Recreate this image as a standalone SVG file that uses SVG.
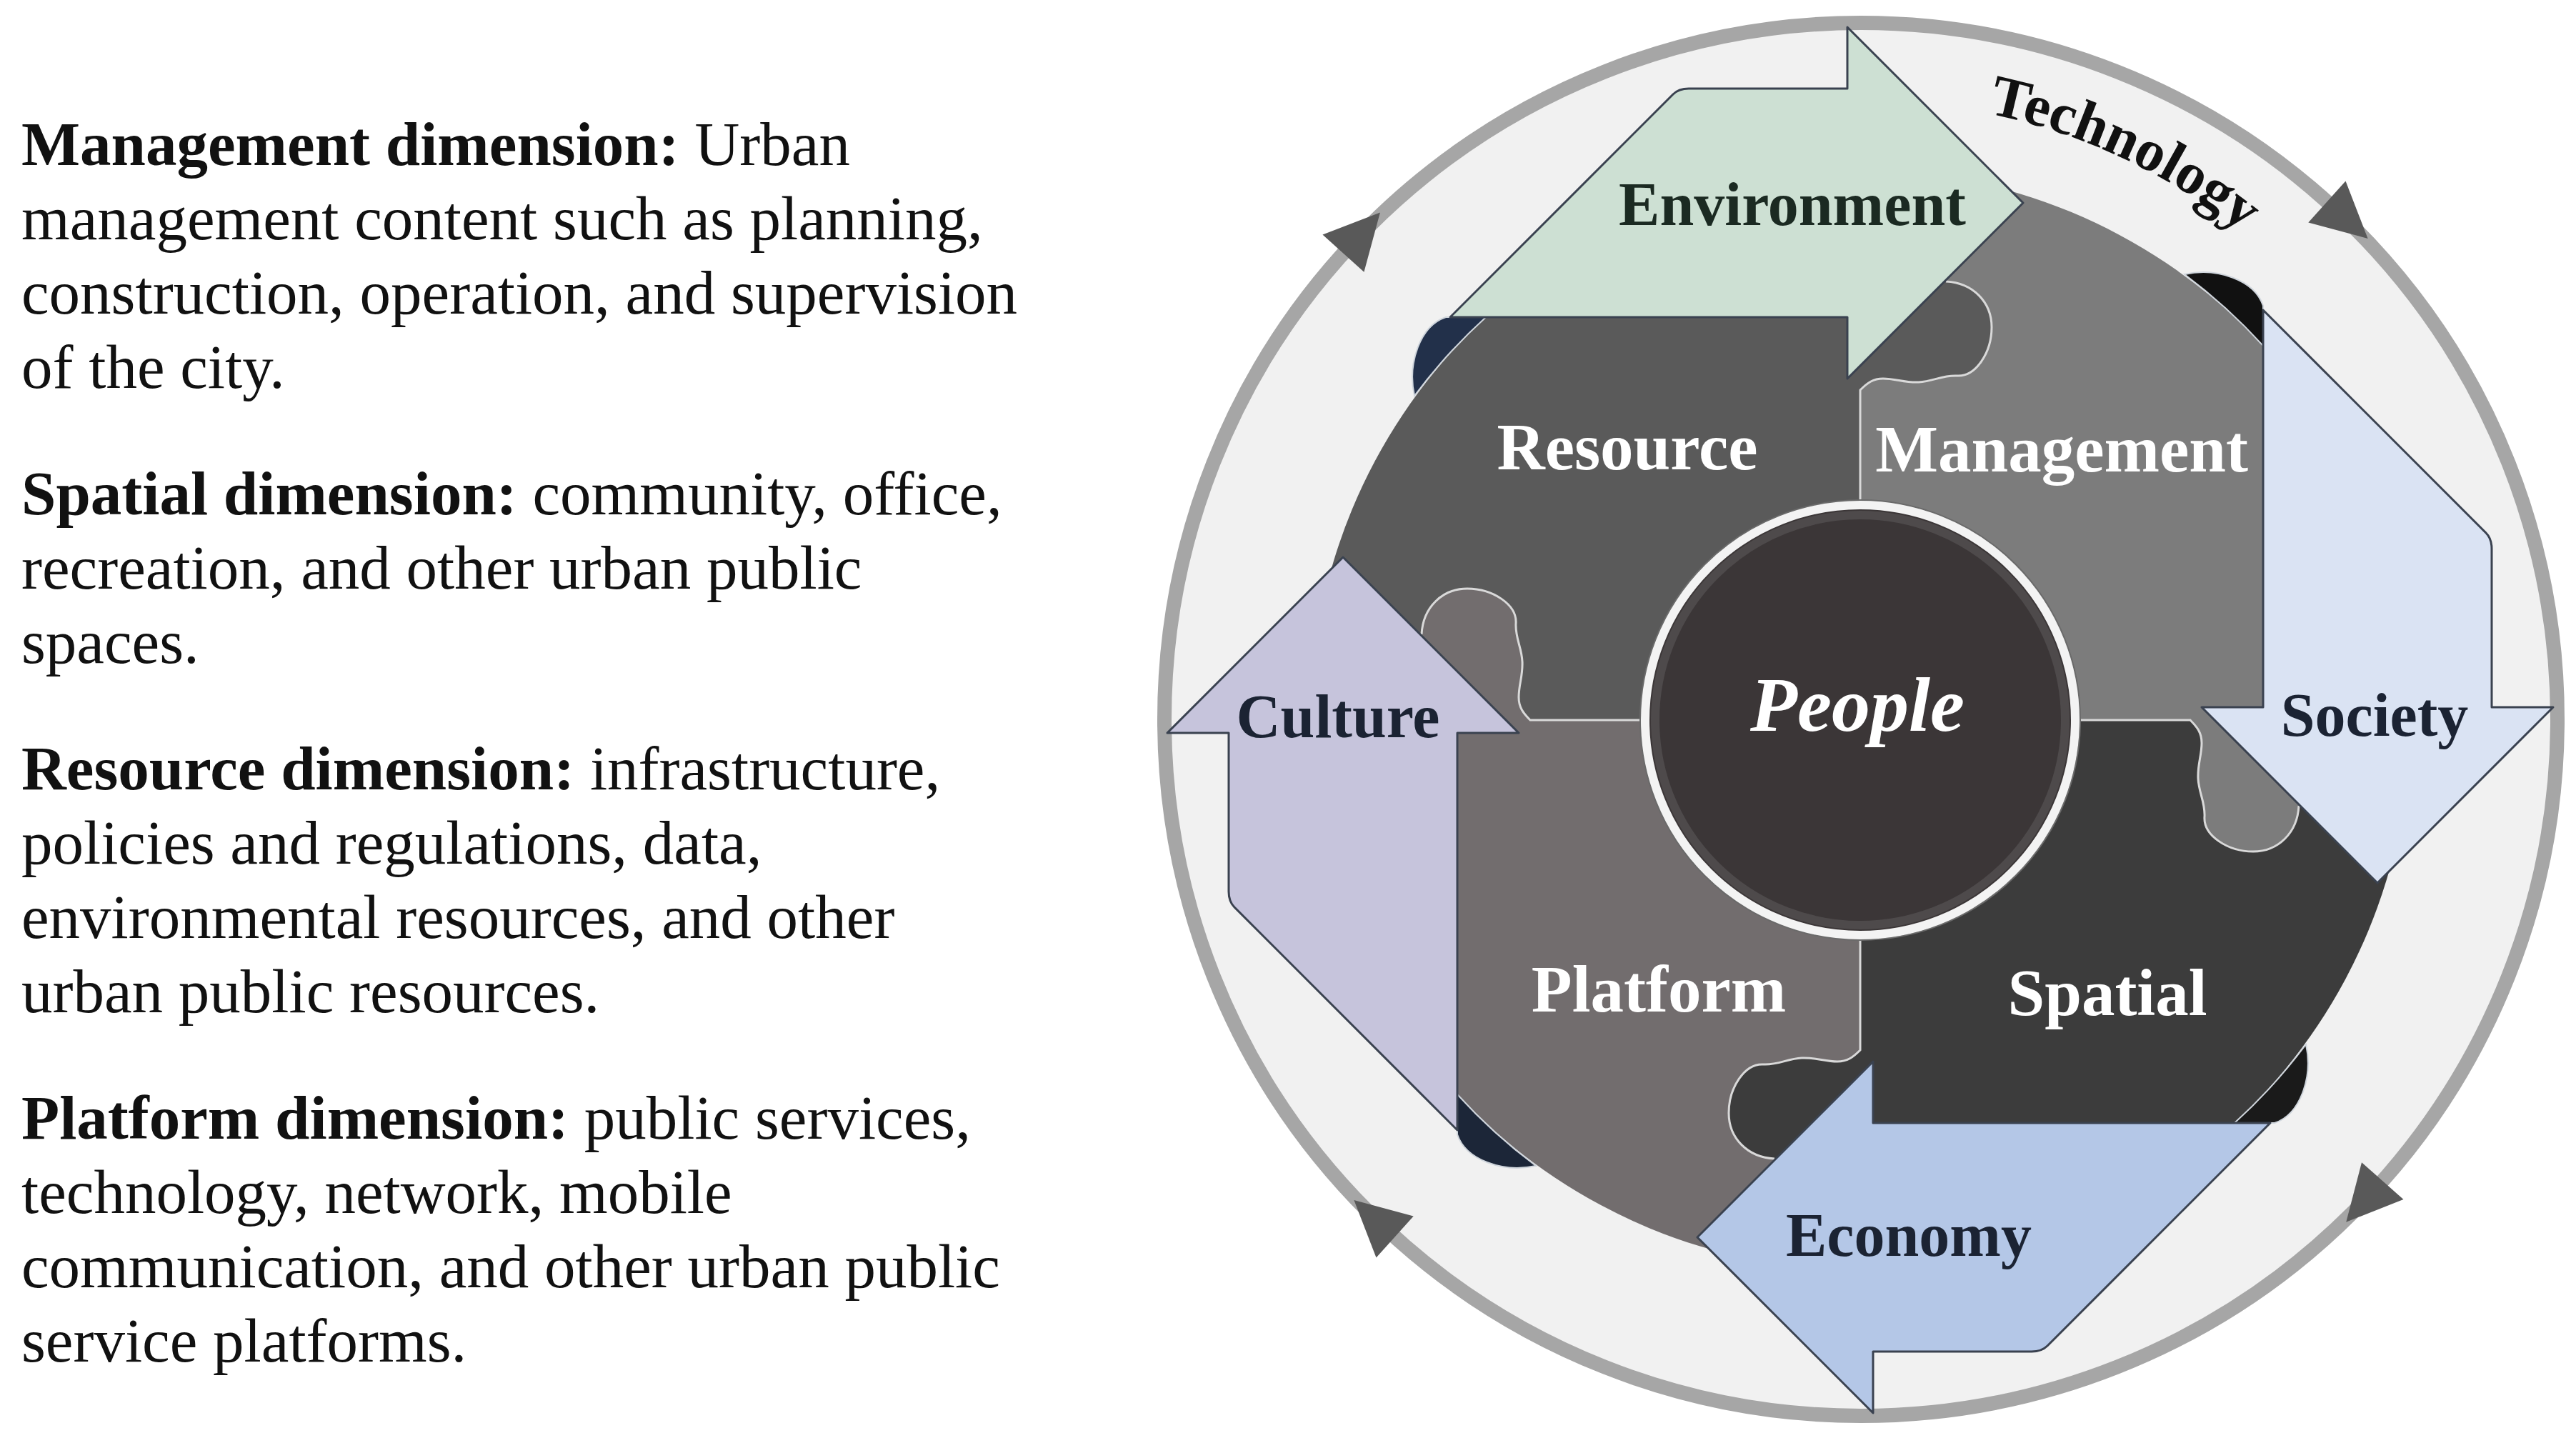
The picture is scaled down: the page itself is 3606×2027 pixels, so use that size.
<svg xmlns="http://www.w3.org/2000/svg" width="3606" height="2027" viewBox="0 0 3606 2027">
<style>
.body{font-family:"Liberation Serif","Times New Roman",serif;font-size:87px;fill:#111}
.b{font-weight:bold}
.pl{font-family:"Liberation Serif","Times New Roman",serif;font-weight:bold;font-size:93px;fill:#ffffff;text-anchor:middle}
.al{font-family:"Liberation Serif","Times New Roman",serif;font-weight:bold;font-size:86px;fill:#1b2333;text-anchor:middle}
.arrow{stroke:#3a4250;stroke-width:3;stroke-linejoin:round}
.curl{stroke:#cfd5dc;stroke-width:2}
.tabline{fill:none;stroke:#d9d9d9;stroke-width:3}
.ringarrow{fill:#595959}
</style>
<defs>
<path id="arrowShape" d="M-240,-884 L-18,-884 L-18,-970 L228,-724 L-18,-478 L-18,-564 L-574,-564 L-262,-876 Q-254,-884 -240,-884 Z"/>
<path id="curlShape" d="M-524,-564 L-580,-564 C-616,-552 -634,-500 -624,-454 A770,770 0 0 1 -524,-564 Z"/>
<path id="tabLine" d="M0,-307 L0,-462 C10,-472 18,-478 32,-478 C50,-478 62,-472 82,-473 C102,-474 115,-483 135,-482 C162,-480 184,-515 184,-550 C184,-585 158,-612 120,-614"/>
<polygon id="ringArrow" points="936,0 1014,0 975,77"/>
<path id="techArc" d="M2307.1,192.3 A868,868 0 0 1 3419.7,711.1"/>
</defs>

<g id="text-panel">
<text class="body" x="30" y="231"><tspan class="b">Management dimension:</tspan> Urban</text>
<text class="body" x="30" y="335">management content such as planning,</text>
<text class="body" x="30" y="439">construction, operation, and supervision</text>
<text class="body" x="30" y="543">of the city.</text>
<text class="body" x="30" y="720"><tspan class="b">Spatial dimension:</tspan> community, office,</text>
<text class="body" x="30" y="824">recreation, and other urban public</text>
<text class="body" x="30" y="928">spaces.</text>
<text class="body" x="30" y="1105"><tspan class="b">Resource dimension:</tspan> infrastructure,</text>
<text class="body" x="30" y="1209">policies and regulations, data,</text>
<text class="body" x="30" y="1313">environmental resources, and other</text>
<text class="body" x="30" y="1417">urban public resources.</text>
<text class="body" x="30" y="1594"><tspan class="b">Platform dimension:</tspan> public services,</text>
<text class="body" x="30" y="1698">technology, network, mobile</text>
<text class="body" x="30" y="1802">communication, and other urban public</text>
<text class="body" x="30" y="1906">service platforms.</text>
</g>

<g id="technology-ring">
<circle cx="2605" cy="1007" r="966" fill="#f1f1f1"/>
<circle cx="2605" cy="1007" r="975" fill="none" stroke="#a6a6a6" stroke-width="20"/>
<text font-family="Liberation Serif, Times New Roman, serif" font-weight="bold" font-size="82" fill="#111"><textPath href="#techArc" startOffset="50%" text-anchor="middle">Technology</textPath></text>
</g>

<g id="connectors">
<use href="#ringArrow" class="ringarrow" transform="translate(2605,1007) rotate(-138)"/>
<use href="#ringArrow" class="ringarrow" transform="translate(2605,1007) rotate(-48)"/>
<use href="#ringArrow" class="ringarrow" transform="translate(2605,1007) rotate(41.5)"/>
<use href="#ringArrow" class="ringarrow" transform="translate(2605,1007) rotate(132)"/>
</g>

<g transform="translate(2604,1008)">
<g id="piece-resource">
<path fill="#5a5a5a" d="M0,0 L0,-462 C10,-472 18,-478 32,-478 C50,-478 62,-472 82,-473 C102,-474 115,-483 135,-482 C162,-480 184,-515 184,-550 C184,-585 158,-612 120,-614 C90,-616 40,-612 0,-608 L0,-770 A770,770 0 0 0 -770,0 L-608,0 C-612,-40 -616,-90 -614,-120 C-612,-158 -585,-184 -550,-184 C-515,-184 -480,-162 -482,-135 C-483,-115 -474,-102 -473,-82 C-472,-62 -478,-50 -478,-32 C-478,-18 -472,-10 -462,0 Z"/>
</g>
<g id="piece-management">
<path fill="#7c7c7c" d="M0,0 L0,-462 C10,-472 18,-478 32,-478 C50,-478 62,-472 82,-473 C102,-474 115,-483 135,-482 C162,-480 184,-515 184,-550 C184,-585 158,-612 120,-614 C90,-616 40,-612 0,-608 L0,-770 A770,770 0 0 1 770,0 L608,0 C612,40 616,90 614,120 C612,158 585,184 550,184 C515,184 480,162 482,135 C483,115 474,102 473,82 C472,62 478,50 478,32 C478,18 472,10 462,0 Z"/>
</g>
<g id="piece-spatial">
<path fill="#3c3c3c" d="M0,0 L462,0 C472,10 478,18 478,32 C478,50 472,62 473,82 C474,102 483,115 482,135 C480,162 515,184 550,184 C585,184 612,158 614,120 C616,90 612,40 608,0 L770,0 A770,770 0 0 1 0,770 L0,608 C-40,612 -90,616 -120,614 C-158,612 -184,585 -184,550 C-184,515 -162,480 -135,482 C-115,483 -102,474 -82,473 C-62,472 -50,478 -32,478 C-18,478 -10,472 0,462 Z"/>
</g>
<g id="piece-platform">
<path fill="#726d6e" d="M0,0 L0,462 C-10,472 -18,478 -32,478 C-50,478 -62,472 -82,473 C-102,474 -115,483 -135,482 C-162,480 -184,515 -184,550 C-184,585 -158,612 -120,614 C-90,616 -40,612 0,608 L0,770 A770,770 0 0 1 -770,0 L-608,0 C-612,-40 -616,-90 -614,-120 C-612,-158 -585,-184 -550,-184 C-515,-184 -480,-162 -482,-135 C-483,-115 -474,-102 -473,-82 C-472,-62 -478,-50 -478,-32 C-478,-18 -472,-10 -462,0 Z"/>
</g>
<g id="piece-joins">
<use href="#tabLine" class="tabline"/>
<use href="#tabLine" class="tabline" transform="rotate(90)"/>
<use href="#tabLine" class="tabline" transform="rotate(180)"/>
<use href="#tabLine" class="tabline" transform="rotate(270)"/>
</g>

<g id="arrow-environment">
<use href="#curlShape" class="curl" fill="#22304a"/>
<use href="#arrowShape" class="arrow" fill="#cde0d3"/>
</g>
<g id="arrow-society" transform="rotate(90)">
<use href="#curlShape" class="curl" fill="#111111"/>
<use href="#arrowShape" class="arrow" fill="#dae3f3"/>
</g>
<g id="arrow-economy" transform="rotate(180)">
<use href="#curlShape" class="curl" fill="#1a1a1a"/>
<use href="#arrowShape" class="arrow" fill="#b4c7e7"/>
</g>
<g id="arrow-culture" transform="rotate(270)">
<use href="#curlShape" class="curl" fill="#1c2638"/>
<use href="#arrowShape" class="arrow" fill="#c6c4dc"/>
</g>
</g>

<g id="people">
<circle cx="2604" cy="1008" r="308" fill="none" stroke="#6a6a6a" stroke-width="2"/>
<circle cx="2604" cy="1008" r="301" fill="#3b3637" stroke="#f3f3f3" stroke-width="12"/>
<circle cx="2604" cy="1008" r="287" fill="none" stroke="#4e4a4b" stroke-width="12"/>
<text x="2600" y="1023" font-family="Liberation Serif, Times New Roman, serif" font-style="italic" font-weight="bold" font-size="108" fill="#ffffff" text-anchor="middle">People</text>
</g>

<g id="labels">
<text class="pl" x="2278" y="657">Resource</text>
<text class="pl" x="2886" y="660">Management</text>
<text class="pl" x="2950" y="1421">Spatial</text>
<text class="pl" x="2322" y="1416">Platform</text>
<text class="al" x="2509" y="315" style="fill:#1b2a22">Environment</text>
<text class="al" x="3324" y="1030">Society</text>
<text class="al" x="2672" y="1758">Economy</text>
<text class="al" x="1873" y="1032">Culture</text>
</g>
</svg>
